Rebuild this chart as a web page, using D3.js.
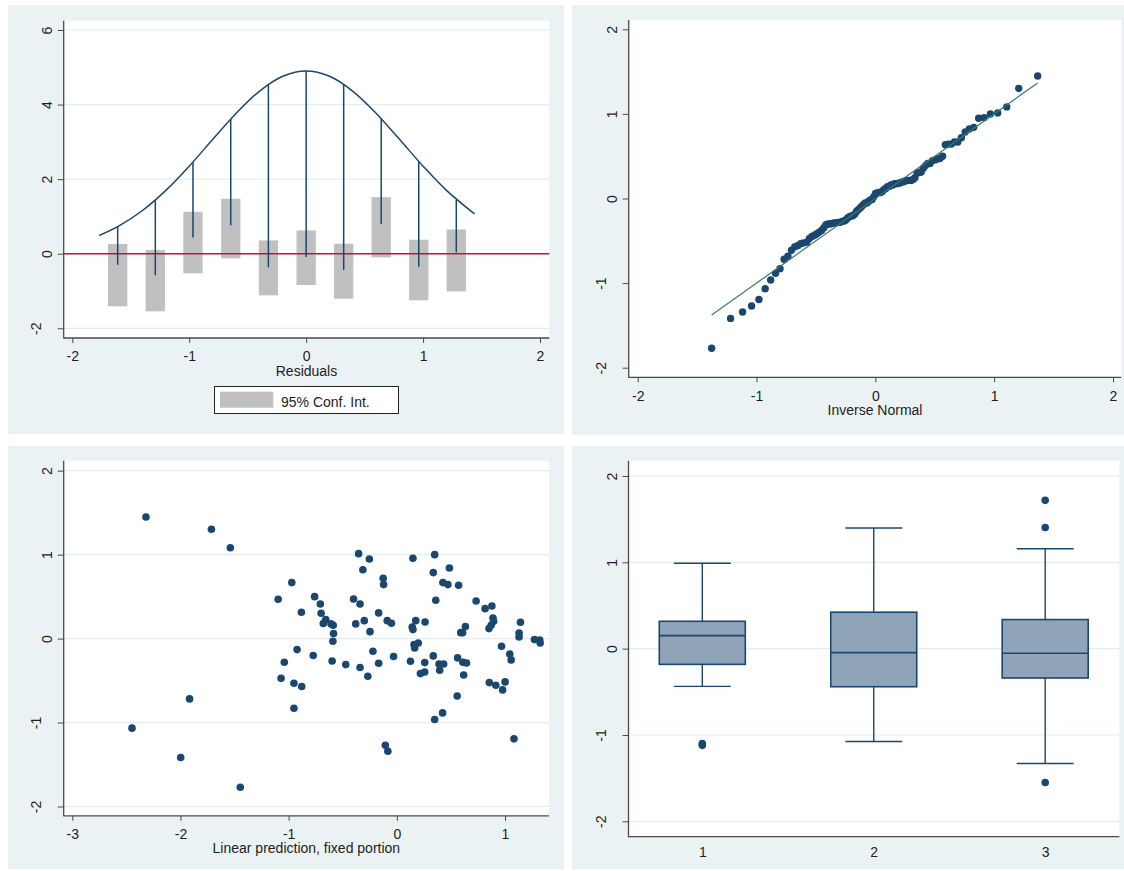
<!DOCTYPE html>
<html><head><meta charset="utf-8">
<script src="https://cdn.jsdelivr.net/npm/d3@7"></script>
<style>
body{margin:0;background:#fff}
svg{display:block}
text{font-family:"Liberation Sans",Arial,Helvetica,sans-serif;font-size:14px;fill:#1e1e1e}
</style>
</head><body>
<svg id="c" width="1124" height="871"></svg>
<script>
// ---------- DATA ----------
// Top-left: residual distribution vs normal density
const binX       = [-1.612, -1.290, -0.968, -0.645, -0.323, 0.000, 0.321, 0.642, 0.963, 1.284];
const spikeTop   = [0.725, 1.44, 2.46, 3.61, 4.54, 4.90, 4.54, 3.63, 2.48, 1.44];
const spikeBottom= [-0.295, -0.580, 0.437, 0.759, -0.366, -0.089, -0.437, 0.795, -0.348, 0.036];
const ciLow      = [-1.41, -1.545, -0.527, -0.125, -1.116, -0.839, -1.205, -0.098, -1.250, -1.009];
const ciHigh     = [0.260, 0.100, 1.125, 1.473, 0.357, 0.625, 0.268, 1.518, 0.375, 0.652];
const densX      = [-1.77, -1.6, -1.4, -1.2, -1.0, -0.8, -0.6, -0.4, -0.2, 0, 0.2, 0.4, 0.6, 0.8, 1.0, 1.2, 1.44];
const densY      = [0.489, 0.746, 1.159, 1.700, 2.349, 3.061, 3.761, 4.356, 4.758, 4.900, 4.758, 4.356, 3.761, 3.061, 2.349, 1.700, 1.067];
const tlXTicks = [-2, -1, 0, 1, 2];
const tlYTicks = [-2, 0, 2, 4, 6];

// Bottom-left: residuals vs linear prediction (fixed portion)
const predX = [-2.319,-1.714,-1.539,-2.448,-1.998,-1.916,-1.447,-1.097,-0.971,-1.040,-1.070,-0.951,-0.882,-0.922,-0.879,-0.951,
  -0.760,-0.707,-0.700,-0.657,-0.680,-0.773,-0.608,-0.588,-0.585,-0.591,-0.598,-0.472,-0.400,-0.340,-0.380,-0.353,-0.254,-0.314,
  -0.301,-0.248,-0.340,-0.268,-0.221,-0.168,-0.168,-0.126,-0.122,-0.089,-0.050,-0.030,-0.106,-0.083,0.149,0.142,0.149,0.175,
  0.126,0.159,0.165,0.198,0.261,0.258,0.218,0.258,0.350,0.337,0.360,0.337,0.390,0.396,0.433,0.350,0.423,0.426,0.472,0.486,
  0.571,0.562,0.558,0.591,0.608,0.634,0.611,0.644,0.618,0.733,0.816,0.879,0.889,0.895,0.872,0.852,0.855,0.915,0.968,0.978,
  1.001,1.044,1.057,1.083,1.130,1.130,1.143,1.272,1.321,1.325];
const resid = [1.448,1.302,1.083,-1.067,-1.417,-0.718,-1.770,0.468,0.667,-0.282,-0.472,-0.532,0.313,-0.131,-0.571,-0.829,
  0.500,0.413,0.302,0.226,0.179,-0.202,0.175,0.159,0.060,-0.032,-0.266,-0.310,0.472,0.413,0.175,1.012,0.948,0.821,
  0.214,0.083,-0.345,-0.448,-0.151,0.306,-0.294,0.718,0.643,0.214,0.183,-0.214,-1.270,-1.341,0.956,0.139,0.107,0.214,
  -0.270,-0.071,-0.111,-0.052,0.198,-0.286,-0.417,-0.397,1.000,0.786,0.456,-0.206,-0.302,-0.377,-0.302,-0.964,-0.885,0.667,0.643,0.841,
  0.635,-0.230,-0.683,0.071,0.071,0.143,-0.282,-0.290,-0.433,0.448,0.357,0.389,0.246,0.206,0.159,0.119,-0.524,-0.556,-0.091,-0.611,
  -0.516,-0.183,-0.254,-1.194,0.067,0.020,0.194,-0.012,-0.016,-0.052];
const blXTicks = [-3, -2, -1, 0, 1];
const blYTicks = [-2, -1, 0, 1, 2];

// Top-right: normal quantile plot of the residuals
const trXTicks = [-2, -1, 0, 1, 2];
const trYTicks = [-2, -1, 0, 1, 2];

// Bottom-right: box plots by group
const boxGroups = [1, 2, 3];
const boxWhiskLo = [-0.437, -1.075, -1.331];
const boxQ1      = [-0.182, -0.441, -0.340];
const boxMedian  = [0.151, -0.046, -0.054];
const boxQ3      = [0.317, 0.422, 0.337];
const boxWhiskHi = [0.990, 1.397, 1.157];
const boxOutGroup = [1, 1, 3, 3, 3];
const boxOutValue = [-1.100, -1.120, 1.718, 1.404, -1.551];
const brYTicks = [-2, -1, 0, 1, 2];

// ---------- STYLE ----------
const BG = "#eaf2f3", GRID = "#e3edf0", AXIS = "#4a4a4a", NAVY = "#1a476f";
const svg = d3.select("#c");
const fmt = d => String(d);   // plain ASCII hyphen for negatives, as in the reference

function panel(o) {
  const g = svg.append("g");
  g.append("rect").attr("x", o.bg[0]).attr("y", o.bg[1]).attr("width", o.bg[2]-o.bg[0]).attr("height", o.bg[3]-o.bg[1]).attr("fill", BG);
  g.append("rect").attr("x", o.px[0]).attr("y", o.py[0]).attr("width", o.px[1]-o.px[0]).attr("height", o.py[1]-o.py[0]).attr("fill", "#fff");
  const x = o.x, y = o.y;
  if (o.grid) {
    g.append("g").selectAll("line").data(o.yTicks).join("line")
      .attr("x1", o.px[0]).attr("x2", o.px[1]).attr("y1", d => y(d)).attr("y2", d => y(d))
      .attr("stroke", GRID).attr("stroke-width", 1.2);
  }
  const marks = g.append("g");
  // y axis
  const ya = g.append("g").attr("transform", `translate(${o.px[0]},0)`)
    .call(d3.axisLeft(y).tickValues(o.yTicks).tickSize(6).tickSizeOuter(0).tickFormat(fmt));
  ya.select(".domain").remove();
  ya.selectAll(".tick line").attr("stroke", AXIS);
  ya.selectAll(".tick text").attr("transform", "rotate(-90)").attr("text-anchor", "middle")
    .attr("x", 0).attr("dy", 0).attr("y", d => d < 0 ? -22.8 : -11.8)
    .style("font-size", "14px").style("font-family", '"Liberation Sans",Arial,sans-serif').attr("fill", "#1e1e1e");
  // x axis
  const xa = g.append("g").attr("transform", `translate(0,${o.py[1]})`)
    .call(d3.axisBottom(x).tickValues(o.xTicks).tickSize(o.noXTicks ? 0 : 5).tickSizeOuter(0).tickFormat(fmt));
  xa.select(".domain").remove();
  xa.selectAll(".tick line").attr("stroke", AXIS);
  xa.selectAll(".tick text").attr("dy", 0).attr("y", o.xLabOff)
    .style("font-size", "14px").style("font-family", '"Liberation Sans",Arial,sans-serif').attr("fill", "#1e1e1e");
  // axis lines
  g.append("line").attr("x1", o.px[0]).attr("x2", o.px[0]).attr("y1", o.py[0]).attr("y2", o.py[1] + 0.5).attr("stroke", AXIS).attr("stroke-width", 1.3);
  g.append("line").attr("x1", o.px[0]).attr("x2", o.px[1]).attr("y1", o.py[1]).attr("y2", o.py[1]).attr("stroke", AXIS).attr("stroke-width", 1.3);
  if (o.title) {
    g.append("text").attr("x", (o.px[0] + o.px[1]) / 2).attr("y", o.py[1] + 37.6).attr("text-anchor", "middle").text(o.title);
  }
  return marks;
}

// ---------- TOP-LEFT ----------
{
  const x = d3.scaleLinear().domain([-2, 2]).range([72.3, 540]);
  const y = d3.scaleLinear().domain([-2, 6]).range([328.3, 30]);
  const m = panel({bg: [8, 5, 564, 434], px: [63.7, 549.3], py: [20.7, 338], x, y,
    xTicks: tlXTicks, yTicks: tlYTicks, grid: true, xLabOff: 23.4, title: "Residuals"});
  const bw = x(0.165) - x(0);
  m.selectAll("rect.ci").data(binX).join("rect").attr("class", "ci")
    .attr("x", (d) => x(d) - bw / 2).attr("width", bw)
    .attr("y", (d, i) => y(ciHigh[i])).attr("height", (d, i) => y(ciLow[i]) - y(ciHigh[i]))
    .attr("fill", "#c0c0c0");
  m.append("line").attr("x1", 63.7).attr("x2", 549.3).attr("y1", y(0)).attr("y2", y(0))
    .attr("stroke", "#c8103a").attr("stroke-width", 1.5);
  m.selectAll("line.sp").data(binX).join("line").attr("class", "sp")
    .attr("x1", d => x(d)).attr("x2", d => x(d))
    .attr("y1", (d, i) => y(spikeTop[i])).attr("y2", (d, i) => y(spikeBottom[i]))
    .attr("stroke", NAVY).attr("stroke-width", 1.5);
  const line = d3.line().x((d, i) => x(densX[i])).y((d, i) => y(densY[i])).curve(d3.curveCatmullRom);
  m.append("path").datum(densX).attr("d", line).attr("fill", "none").attr("stroke", NAVY).attr("stroke-width", 1.5);
  // legend
  const lg = svg.append("g");
  lg.append("rect").attr("x", 214.5).attr("y", 386.5).attr("width", 184).attr("height", 27)
    .attr("fill", "#fff").attr("stroke", "#222").attr("stroke-width", 1);
  lg.append("rect").attr("x", 220).attr("y", 391.7).attr("width", 53.3).attr("height", 16).attr("fill", "#c0c0c0");
  lg.append("text").attr("x", 281).attr("y", 406.6).text("95% Conf. Int.");
}

// ---------- TOP-RIGHT (normal quantile plot) ----------
function invnorm(p) {
  const a=[-3.969683028665376e+01,2.209460984245205e+02,-2.759285104469687e+02,1.383577518672690e+02,-3.066479806614716e+01,2.506628277459239e+00];
  const b=[-5.447609879822406e+01,1.615858368580409e+02,-1.556989798598866e+02,6.680131188771972e+01,-1.328068155288572e+01];
  const c=[-7.784894002430293e-03,-3.223964580411365e-01,-2.400758277161838e+00,-2.549732539343734e+00,4.374664141464968e+00,2.938163982698783e+00];
  const d=[7.784695709041462e-03,3.224671290700398e-01,2.445134137142996e+00,3.754408661907416e+00];
  const pl = 0.02425; let q, r;
  if (p < pl) { q = Math.sqrt(-2*Math.log(p)); return (((((c[0]*q+c[1])*q+c[2])*q+c[3])*q+c[4])*q+c[5])/((((d[0]*q+d[1])*q+d[2])*q+d[3])*q+1); }
  if (p <= 1 - pl) { q = p - 0.5; r = q*q; return (((((a[0]*r+a[1])*r+a[2])*r+a[3])*r+a[4])*r+a[5])*q/(((((b[0]*r+b[1])*r+b[2])*r+b[3])*r+b[4])*r+1); }
  q = Math.sqrt(-2*Math.log(1-p)); return -(((((c[0]*q+c[1])*q+c[2])*q+c[3])*q+c[4])*q+c[5])/((((d[0]*q+d[1])*q+d[2])*q+d[3])*q+1);
}
{
  const x = d3.scaleLinear().domain([-2, 2]).range([637.7, 1113]);
  const y = d3.scaleLinear().domain([-2, 2]).range([367.7, 29.3]);
  const m = panel({bg: [572, 5, 1130, 435], px: [628.7, 1121.3], py: [20, 377.3], x, y,
    xTicks: trXTicks, yTicks: trYTicks, grid: false, xLabOff: 23.4, title: "Inverse Normal"});
  const sorted = resid.slice().sort(d3.ascending);
  const n = sorted.length, mu = d3.mean(sorted), sd = d3.deviation(sorted);
  const qq = sorted.map((v, i) => [mu + sd * invnorm((i + 1) / (n + 1)), v]);
  m.selectAll("circle").data(qq).join("circle")
    .attr("cx", d => x(d[0])).attr("cy", d => y(d[1])).attr("r", 3.7).attr("fill", NAVY);
  const x0 = qq[0][0], x1 = qq[n - 1][0];
  m.append("line").attr("x1", x(x0)).attr("y1", y(x0)).attr("x2", x(x1)).attr("y2", y(x1))
    .attr("stroke", "#3b7a63").attr("stroke-width", 1.2);
}

// ---------- BOTTOM-LEFT ----------
{
  const x = d3.scaleLinear().domain([-3, 1]).range([72.3, 505]);
  const y = d3.scaleLinear().domain([-2, 2]).range([806.5, 470.7]);
  const m = panel({bg: [8, 446, 564, 869], px: [63.7, 549], py: [460.7, 815.8], x, y,
    xTicks: blXTicks, yTicks: blYTicks, grid: true, xLabOff: 23.4, title: "Linear prediction, fixed portion"});
  m.selectAll("circle").data(predX).join("circle")
    .attr("cx", d => x(d)).attr("cy", (d, i) => y(resid[i])).attr("r", 3.8).attr("fill", NAVY);
}

// ---------- BOTTOM-RIGHT ----------
{
  const x = d3.scaleLinear().domain([1, 3]).range([702.3, 1045.2]);
  const y = d3.scaleLinear().domain([-2, 2]).range([821.3, 476]);
  const m = panel({bg: [572, 446, 1130, 869], px: [628.5, 1119.4], py: [460.7, 836.7], x, y,
    xTicks: boxGroups, yTicks: brYTicks, grid: true, xLabOff: 20, noXTicks: true});
  const hw = 43, cw = 28.5;
  boxGroups.forEach((gv, i) => {
    const cx = x(gv);
    m.append("line").attr("x1", cx).attr("x2", cx).attr("y1", y(boxQ3[i])).attr("y2", y(boxWhiskHi[i])).attr("stroke", NAVY).attr("stroke-width", 1.4);
    m.append("line").attr("x1", cx).attr("x2", cx).attr("y1", y(boxQ1[i])).attr("y2", y(boxWhiskLo[i])).attr("stroke", NAVY).attr("stroke-width", 1.4);
    m.append("line").attr("x1", cx - cw).attr("x2", cx + cw).attr("y1", y(boxWhiskHi[i])).attr("y2", y(boxWhiskHi[i])).attr("stroke", NAVY).attr("stroke-width", 1.4);
    m.append("line").attr("x1", cx - cw).attr("x2", cx + cw).attr("y1", y(boxWhiskLo[i])).attr("y2", y(boxWhiskLo[i])).attr("stroke", NAVY).attr("stroke-width", 1.4);
    m.append("rect").attr("x", cx - hw).attr("width", 2 * hw).attr("y", y(boxQ3[i])).attr("height", y(boxQ1[i]) - y(boxQ3[i]))
      .attr("fill", "#8fa4b9").attr("stroke", NAVY).attr("stroke-width", 1.6);
    m.append("line").attr("x1", cx - hw).attr("x2", cx + hw).attr("y1", y(boxMedian[i])).attr("y2", y(boxMedian[i])).attr("stroke", NAVY).attr("stroke-width", 1.6);
  });
  m.selectAll("circle").data(boxOutValue).join("circle")
    .attr("cx", (d, i) => x(boxOutGroup[i])).attr("cy", d => y(d)).attr("r", 3.8).attr("fill", NAVY);
}
</script>
</body></html>
